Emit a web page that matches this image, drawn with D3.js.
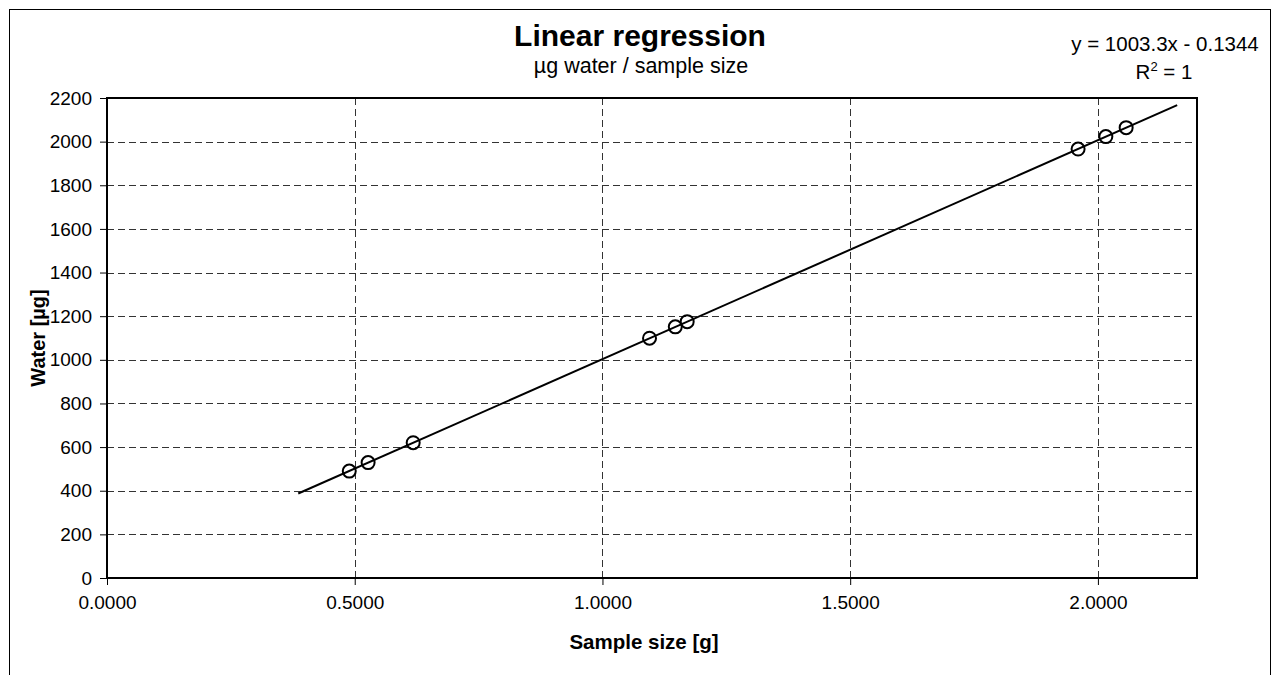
<!DOCTYPE html>
<meta charset="utf-8">

<script src="https://d3js.org/d3.v7.min.js"></script>

<style>
  body { margin: 0; background: #fff; }
  text { font-family: "Liberation Sans", Arial, sans-serif; fill: #000; }
</style>

<div id="page"></div>

<script>

  // Measurements (sample size in g, water in µg)
  var sampleSize = [0.489, 0.527, 0.618, 1.095, 1.147, 1.171, 1.960, 2.016, 2.057];
  var water = [490, 529, 620, 1099, 1151, 1175, 1966, 2023, 2064];

  // Trendline y = slope * x + intercept, drawn between these x values
  var slope = 1003.3, intercept = -0.1344;
  var trendRange = [0.386, 2.16];

  var xTicks = [0, 0.5, 1.0, 1.5, 2.0];
  var yTicks = [0, 200, 400, 600, 800, 1000, 1200, 1400, 1600, 1800, 2000, 2200];

  var W = 1272, H = 675;
  var margin = { top: 98, right: 75, bottom: 97, left: 107 },
    width = W - margin.left - margin.right,
    height = H - margin.top - margin.bottom;

  var svg0 = d3.select("#page")
    .append("svg")
    .attr("width", W)
    .attr("height", H);

  // Outer chart frame (runs off the bottom of the picture)
  svg0.append("rect")
    .attr("x", 9.5).attr("y", 9.5)
    .attr("width", 1261).attr("height", 700)
    .attr("fill", "none")
    .attr("stroke", "#000")
    .attr("stroke-width", 1);

  var svg = svg0.append("g")
    .attr("transform", "translate(" + margin.left + "," + margin.top + ")");

  var x = d3.scaleLinear().domain([0, 2.2]).range([0, width]);
  var y = d3.scaleLinear().domain([0, 2200]).range([height, 0]);

  // Grid lines
  svg.append("g")
    .selectAll("line")
    .data(yTicks.slice(1, -1))
    .enter()
    .append("line")
    .attr("x1", 0).attr("x2", width)
    .attr("y1", function (d) { return Math.round(y(d)) + 0.5; })
    .attr("y2", function (d) { return Math.round(y(d)) + 0.5; })
    .attr("stroke", "#333")
    .attr("stroke-dasharray", "7,4");

  svg.append("g")
    .selectAll("line")
    .data(xTicks.slice(1))
    .enter()
    .append("line")
    .attr("y1", 0).attr("y2", height)
    .attr("x1", function (d) { return Math.round(x(d)) + 0.5; })
    .attr("x2", function (d) { return Math.round(x(d)) + 0.5; })
    .attr("stroke", "#333")
    .attr("stroke-dasharray", "7,4");

  // Axes
  var xAxis = svg.append("g")
    .attr("transform", "translate(0," + height + ")")
    .call(d3.axisBottom(x).tickValues(xTicks).tickFormat(d3.format(".4f")).tickSizeInner(7).tickSizeOuter(0).tickPadding(11));
  var yAxis = svg.append("g")
    .call(d3.axisLeft(y).tickValues(yTicks).tickFormat(d3.format("d")).tickSizeInner(7).tickSizeOuter(0).tickPadding(8));

  [xAxis, yAxis].forEach(function (a) {
    a.select(".domain").remove();
    a.selectAll("line").attr("stroke", "#000");
    a.selectAll("text")
      .attr("font-size", "19px")
      .attr("font-family", "Liberation Sans, Arial, sans-serif")
      .attr("fill", "#000");
  });

  // Plot border
  svg.append("rect")
    .attr("width", width).attr("height", height)
    .attr("fill", "none")
    .attr("stroke", "#000")
    .attr("stroke-width", 2);

  // Trendline
  svg.append("line")
    .attr("x1", x(trendRange[0]))
    .attr("y1", y(slope * trendRange[0] + intercept))
    .attr("x2", x(trendRange[1]))
    .attr("y2", y(slope * trendRange[1] + intercept))
    .attr("stroke", "#000")
    .attr("stroke-width", 2);

  // Points
  svg.selectAll("circle")
    .data(sampleSize)
    .enter()
    .append("circle")
    .attr("cx", function (d) { return x(d); })
    .attr("cy", function (d, i) { return y(water[i]); })
    .attr("r", 6.5)
    .attr("fill", "none")
    .attr("stroke", "#000")
    .attr("stroke-width", 2);

  // Titles
  svg0.append("text")
    .attr("x", 640).attr("y", 46)
    .attr("text-anchor", "middle")
    .attr("font-size", "30px")
    .attr("font-weight", "bold")
    .text("Linear regression");

  svg0.append("text")
    .attr("x", 641).attr("y", 73)
    .attr("text-anchor", "middle")
    .attr("font-size", "21.5px")
    .text("µg water / sample size");

  svg0.append("text")
    .attr("x", 1165).attr("y", 51)
    .attr("text-anchor", "middle")
    .attr("font-size", "20.5px")
    .text("y = 1003.3x - 0.1344");

  var r2 = svg0.append("text")
    .attr("x", 1164).attr("y", 79)
    .attr("text-anchor", "middle")
    .attr("font-size", "20.5px");
  r2.append("tspan").text("R");
  r2.append("tspan").attr("dy", -8).attr("font-size", "13px").text("2");
  r2.append("tspan").attr("dy", 8).text(" = 1");

  svg0.append("text")
    .attr("x", 644).attr("y", 649)
    .attr("text-anchor", "middle")
    .attr("font-size", "20.5px")
    .attr("font-weight", "bold")
    .text("Sample size [g]");

  svg0.append("text")
    .attr("transform", "translate(45,338)rotate(-90)")
    .attr("text-anchor", "middle")
    .attr("font-size", "20px")
    .attr("font-weight", "bold")
    .text("Water [µg]");

</script>
